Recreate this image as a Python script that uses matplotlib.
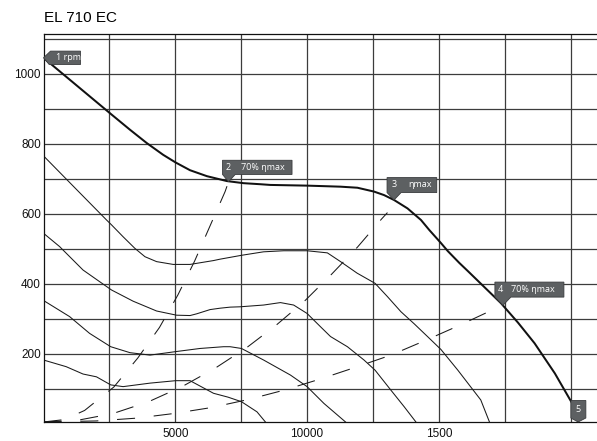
import matplotlib
matplotlib.use("Agg")
import matplotlib.pyplot as plt
from matplotlib.patches import Polygon
from matplotlib.transforms import ScaledTranslation

plt.rcParams["lines.scale_dashes"] = False

# max speed curve (thick)
main_x = [0, 2550, 3275, 3910, 4540, 5015, 5560, 6200, 6960, 7590, 8230, 8600,
          10000, 11270, 11910, 12540, 12920, 13300, 13810, 14320, 14640, 15080,
          15340, 15780, 16100, 17360, 18000, 18630, 19400, 20060, 20285]
main_y = [1045, 885, 840, 802, 768, 746, 724, 707, 693, 687, 684, 682,
          680, 677, 674, 663, 653, 639, 615, 582, 553, 516,
          493, 459, 436, 344, 289, 230, 144, 58, 5]

# part load curves (thin)
a_x = [0, 1200, 2390, 2580, 3020, 3465, 3850, 4290, 4920, 5560, 6450, 6700, 7510,
       8350, 9110, 10000, 10770, 11270, 11900, 12580, 13050, 13560, 14070, 14570,
       15080, 15720, 16590, 16920]
a_y = [765, 673, 582, 568, 534, 501, 477, 463, 455, 455, 466, 470, 481,
       491, 494, 494, 488, 463, 430, 401, 363, 320, 285, 249,
       212, 153, 68, 5]

b_x = [0, 610, 1500, 2580, 3400, 4290, 5050, 5560, 5815, 6320, 6700, 7080, 7460,
       8350, 8990, 9490, 10000, 10510, 10890, 11530, 12160, 12580, 13180, 13680,
       14130]
b_y = [544, 506, 439, 382, 350, 322, 310, 309, 314, 326, 330, 333, 334,
       339, 346, 339, 315, 277, 249, 220, 182, 153, 96, 49,
       5]

c_x = [0, 990, 1750, 2550, 3280, 4040, 5015, 5940, 6830, 7080, 7510, 8350,
       9370, 10000, 10640, 11460]
c_y = [352, 306, 258, 220, 203, 196, 206, 215, 220, 220, 215, 182,
       139, 106, 58, 5]

d_x = [0, 860, 1500, 2010, 2550, 3020, 4040, 5015, 5560, 6450, 7000, 7510, 8100, 8420]
d_y = [182, 163, 142, 134, 111, 106, 116, 123, 123, 87, 76, 63, 34, 5]

# system curves (dashed)
s2_x = [0, 800, 1560, 2670, 3580, 4400, 5100, 5730, 6890, 7020]
s2_y = [5, 12, 38, 105, 188, 275, 368, 464, 663, 691]

s3_x = [0, 1300, 2630, 3990, 5255, 6500, 7720, 8835, 9900, 10930, 11920, 12830, 13050]
s3_y = [5, 10, 29, 63, 106, 158, 218, 282, 350, 427, 505, 585, 603]

s4_x = [0, 2000, 3530, 4920, 6350, 7760, 9130, 10470, 11830, 13180, 14430, 15780,
        17060, 17430]
s4_y = [5, 8, 16, 29, 46, 69, 96, 127, 161, 196, 236, 281, 326, 338]

grid_x = [2500, 5000, 7500, 10000, 12500, 15000, 17500, 20000]
xlabels = ["", "5000", "", "10000", "", "1500", "", ""]
grid_y = [100, 200, 300, 400, 500, 600, 700, 800, 900, 1000, 1100]
ylabels = ["", "200", "", "400", "", "600", "", "800", "", "1000", ""]

W, H = 597, 441
fig = plt.figure(figsize=(W / 100, H / 100), dpi=100)
ax = fig.add_axes([43.5 / W, 1 - 422 / H, 1 - 43.5 / W, (422 - 34) / H])
ax.set_xlim(0, 21000)
ax.set_ylim(5, 1113)

ax.set_xticks(grid_x)
ax.set_xticklabels(xlabels)
ax.set_yticks(grid_y)
ax.set_yticklabels(ylabels)
ax.tick_params(length=0, labelsize=8.5, labelcolor="#111111")
ax.tick_params(axis="y", pad=1.8)
ax.tick_params(axis="x", pad=4)
for lab in ax.get_xticklabels() + ax.get_yticklabels():
    lab.set_family("Liberation Sans")
ax.grid(True, color="#3c3c3c", lw=0.9)
ax.set_axisbelow(True)
for side in ("left", "bottom", "top"):
    ax.spines[side].set_color("#111111")
    ax.spines[side].set_linewidth(0.9)
ax.spines["right"].set_visible(False)

thin = dict(color="#1a1a1a", lw=0.75, solid_joinstyle="round")
for xs, ys in [(a_x, a_y), (b_x, b_y), (c_x, c_y), (d_x, d_y)]:
    ax.plot(xs, ys, **thin)

dash = dict(color="#1a1a1a", lw=0.75, ls=(0, (13, 13.5)))
for xs, ys in [(s2_x, s2_y), (s3_x, s3_y), (s4_x, s4_y)]:
    ax.plot(xs, ys, **dash)

ax.plot(main_x, main_y, color="#111111", lw=1.45, zorder=4,
        solid_joinstyle="round")


def tag(x, y, outline, texts):
    # outline / text offsets are in pixels from the tip, y pointing down
    tr = fig.dpi_scale_trans + ScaledTranslation(x, y, ax.transData)
    pts = [(px / 100, -py / 100) for px, py in outline]
    ax.add_patch(Polygon(pts, closed=True, transform=tr, fc="#5d6062",
                         ec="#3a3c3e", lw=0.6, clip_on=False, zorder=5))
    for dx, dy, s, ha in texts:
        ax.text(dx / 100, -dy / 100, s, transform=tr, ha=ha, va="center",
                color="white", fontsize=6.5, family="Open Sans", zorder=6)


tag(main_x[0], main_y[0],
    [(0, 0), (7, -6.7), (37, -6.7), (37, 6.7), (5.7, 6.7)],
    [(12, -0.5, "1 rpm", "left")])
tag(s2_x[-1], s2_y[-1],
    [(0, 0), (6.7, -7.3), (63.5, -7.3), (63.5, -21.5), (-6, -21.5), (-6, -7.3)],
    [(0, -14.5, "2", "center"), (12.5, -14.5, "70% ηmax", "left")])
tag(13300, 639,
    [(0, 0), (7, -7.4), (42.7, -7.4), (42.7, -22.4), (-7, -22.4), (-7, -7.4)],
    [(0, -15, "3", "center"), (14, -15, "ηmax", "left")])
tag(s4_x[-1], s4_y[-1],
    [(0, 0), (8, -8.3), (61, -8.3), (61, -23.3), (-8, -23.3), (-8, -8.3)],
    [(-3, -16, "4", "center"), (8.5, -16, "70% ηmax", "left")])
tag(main_x[-1], main_y[-1],
    [(0, 0), (7.7, -4), (7.7, -21.5), (-7.3, -21.5), (-7.3, -4)],
    [(0, -12.5, "5", "center")])

fig.text(44 / W, 1 - 18 / H, "EL 710 EC", ha="left", va="center",
         fontsize=11, family="Liberation Sans")

fig.savefig("out.png", dpi=100)
